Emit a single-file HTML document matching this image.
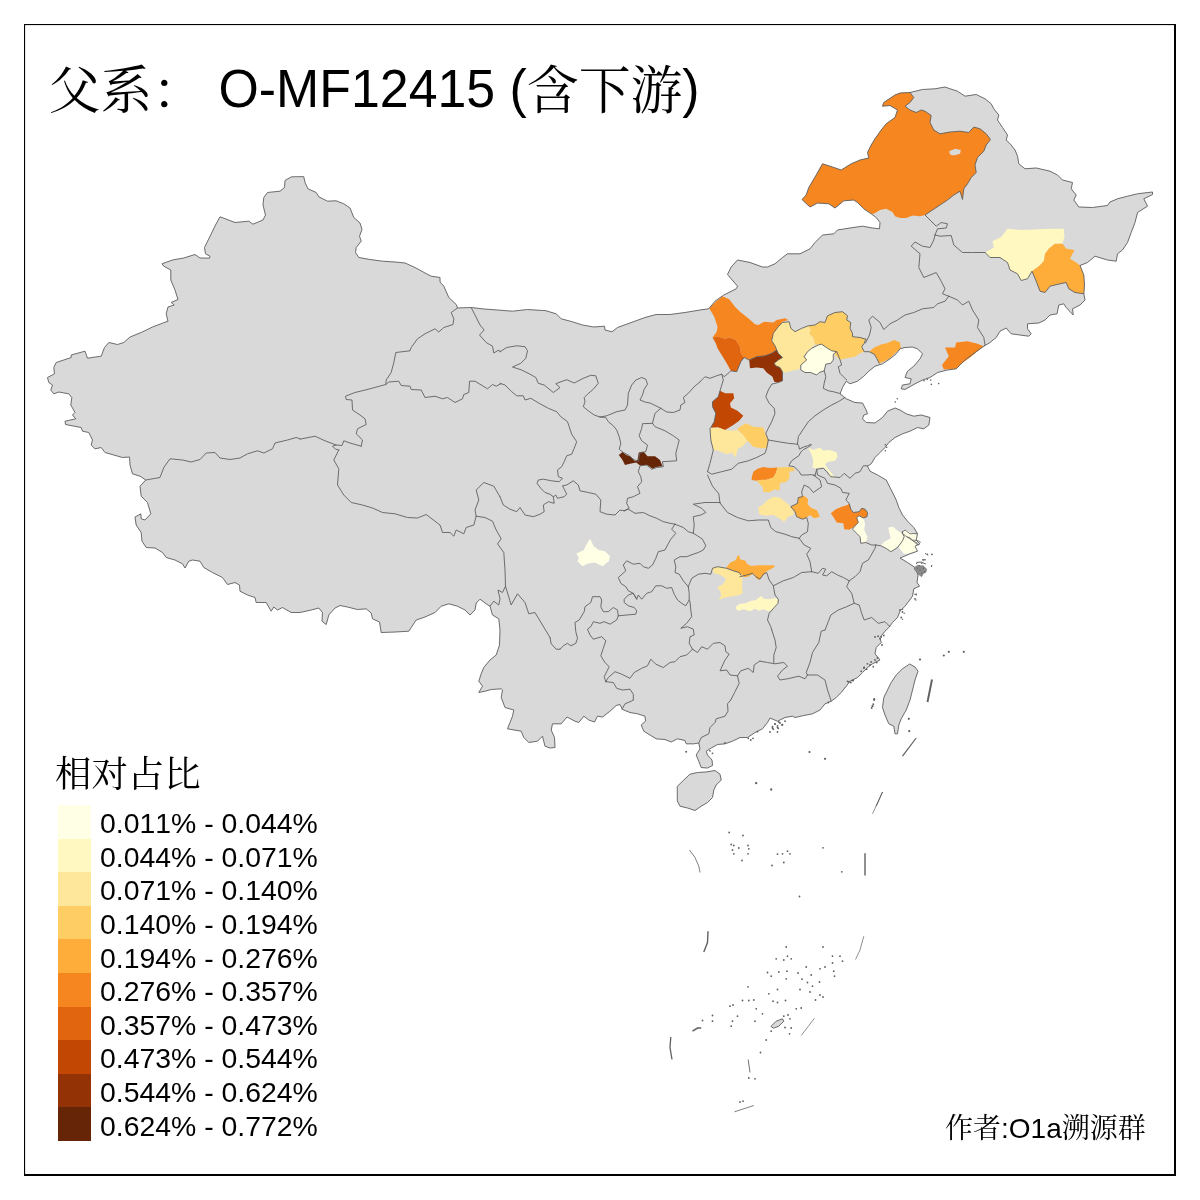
<!DOCTYPE html>
<html lang="zh"><head><meta charset="utf-8"><title>父系： O-MF12415 (含下游)</title>
<style>
html,body{margin:0;padding:0;background:#fff}
body{width:1200px;height:1200px;position:relative;overflow:hidden;font-family:"Liberation Sans","Noto Serif CJK SC",serif;color:#000;font-kerning:none}
.title{position:absolute;left:48.6px;top:59px;font-size:51.85px;line-height:60px;white-space:pre;font-family:"Liberation Sans","Noto Serif CJK SC",serif}
.la{display:inline-block;transform:scaleY(1.025);transform-origin:0 48px;white-space:pre}
.cj{position:relative;top:1.6px}
.lt{position:absolute;left:55px;top:752.6px;font-size:36.4px;line-height:44px;font-family:"Liberation Sans","Noto Serif CJK SC",serif;white-space:pre}
.sw{position:absolute;left:58px;width:33px;height:33.7px}
.lb{position:absolute;left:100px;font-size:28.4px;line-height:33.6px;height:33.6px;margin-top:2.3px;white-space:pre}
.au{position:absolute;left:945px;top:1112px;font-size:28px;line-height:34px;white-space:pre;font-family:"Liberation Sans","Noto Serif CJK SC",serif}
</style></head><body>
<svg width="1200" height="1200" viewBox="0 0 1200 1200" style="position:absolute;left:0;top:0">
<g fill="#D9D9D9" stroke="#D9D9D9" stroke-width="0.5" stroke-linejoin="round">
<path d="M291.2,177 285,180.5 284.5,187.5 280,191.2 267.5,192.5 263.8,197.5 263,205 265.5,215 263,220 253,224.2 248.8,221.2 235,222.5 220,216.8 215.5,225 208.8,238.8 204.5,247.5 205.5,253.8 210,256.2 209.5,258.2 200,258 195,254.5 183.8,258 172.5,260 162,263.8 163.8,266.2 170.8,270 170.8,280 175,290 178,299.5 171.2,302.5 174.2,305 168,307 166.2,313.8 168,321.2 162.5,323.2 152.5,327 141.2,332.5 130,337 123.8,342.5 117.5,344.5 108.8,342.5 104.5,347.5 101.2,356.2 87.5,358.2 85,351.2 71.2,355 71.2,357.5 56.2,362.5 53.8,367.5 54.5,373.8 47.5,377.5 48.8,382.5 52.5,385 50.8,390 53.8,393.8 58.8,392 68.8,393.8 71.8,397.5 70.8,405 75,412.5 72.5,415 75.8,418.8 65,421.2 65.5,424.5 81.2,427.5 82.5,431.2 88.8,432.5 92.5,440 91.2,445 95,448.8 101.2,447.5 105,452.5 113.8,455 122.5,457.5 129.5,457 130,465 132.5,473.8 140,476.2 145.8,480 140,486.2 141.2,496.2 147.5,502.5 150.8,513.8 145,520 141.2,518.8 140.8,513.8 135,517 136.2,525 141.2,532.5 142,541.2 146.2,547.5 155,548 162.5,552.5 166.2,557.5 175,560 182.5,563.8 185,568 188.8,561.2 192.5,560 200,561.2 203.8,567.5 212.5,572.5 222.5,577.5 227.5,584.5 235,582.5 239.5,585 240,591.2 247.5,595 255,597.5 256.2,602.5 266.2,602.5 271.2,611.2 273.8,607 277.5,610 282.5,607.5 291.2,612.5 300,612.5 311.2,610 318.8,608 322.5,612.5 322,621.2 326.2,624.5 328.8,615 335,608 340,605.5 347.5,607 357.5,609.5 366.2,608.8 371.2,613 372.5,618.8 379.5,622 381.2,632.5 395,632 408.8,631.2 416.2,620 425,617 435,612.5 441.2,606.2 448.8,603.8 457.5,606.2 465,610 470,615 475,610 476.2,603 480,599.2 486.2,603.8 490,606.2 492.5,615 498.8,618.8 500,630 499.5,645 496.2,655 490,660 483.8,667.5 481.2,673.8 478.8,681.2 482.5,686.2 478.8,692.5 485,691.2 491.2,689.5 501.2,688.8 502.5,690 501.2,697.5 505,707.5 513.8,710 512.5,716.2 510,722.5 507.5,728.8 521.2,731.2 523.8,737.5 528.8,742.5 537.5,741.2 542.5,736.2 545,746.2 550,748 555,747.5 554.5,737.5 551.2,730 552.5,723.8 561.2,723.8 567,717 575,721.2 578.8,722.5 583.8,716.2 588.8,720 594.5,722 597.5,716.2 602.5,717 610,711.2 616.2,705.5 620,704.5 622.5,709.5 630,712.5 637.5,713.8 645,716.2 645.5,721.2 641.2,725 643.8,731.2 650,735 656.2,738.8 665,739.5 671.2,742 677.5,738.8 685,740.5 686.2,743.8 693.8,743.8 698.8,743 700,748.8 696.2,755 698.8,761.2 701.2,767.5 707.5,768 712.5,765.5 712,760 707.5,755 706.2,751.2 711.2,748 717.5,744.5 725,743.8 732.5,741.2 740,737.5 747.5,737.5 755,732.5 762.5,728.8 767.5,722.5 770,718 777.5,721.2 785,717.5 792.5,716.2 795,717.5 803.8,715.5 812.5,713.8 820,710 825,703.8 831.2,701.2 836.2,697.5 841.2,692.5 846.2,686.2 850,681.2 857.5,677.5 862.5,672.5 867.5,667.5 872.5,663.8 880,660 875,653.8 876.2,647.5 881.2,642.5 880,637.5 885,631.2 888.8,627.5 892.5,622.5 897.5,617.5 900,611.2 905,606.2 908.8,601.2 912.5,596.2 913.8,588.8 919.5,586.2 917,582.5 918,575 915,567.5 907.5,562.5 900,558 902.5,557 910,553.8 917.5,551.2 915,546.2 920,543.8 916.2,540 917.5,533.8 913.8,527.5 907.5,521.2 902.5,515 898.8,507.5 896.2,500 893.8,495 890,487.5 886.2,480 877.5,475 870,471.2 867.5,466.2 871.2,463.8 875,457.5 880,452.5 885,447.5 888.8,442.5 895,437.5 902.5,433.8 910,431.2 917.5,427.5 923.8,428.8 928.8,425 930,417.5 921.2,415 913.8,416.2 906.2,413.8 900,410 895,408 887.5,411.2 882.5,417.5 875,423 866.2,422.5 862.5,418.8 863.8,415 867.5,413.8 866.2,410 862.5,403 855,402.5 846.2,398.8 840,393.8 842.5,387.5 846.2,381.2 850,383.8 857.5,381.2 863.8,376.2 868.8,371.2 875,366.2 882.5,363.8 890,358.8 896.2,353.8 900,348.8 905,347.5 912.5,347 917.5,348.8 922.5,353.8 920,358.8 913.8,366.2 907.5,371.2 905,377.5 911.2,378.8 910,383.8 902.5,385 901.2,388.8 905,389.5 915,383.8 922.5,380 930,377.5 937.5,372.5 947.5,370 956.2,368.8 965,360 975,352.5 983.8,346.2 990,342.5 996.2,337.5 1000,331.2 1006.2,328 1011.2,333.8 1020,335 1028.8,336.2 1031.2,333.8 1027.5,328.8 1027.5,323.8 1038.8,323 1045,320 1050,315 1057,313.8 1058.8,305 1063.8,303.8 1066.2,307.5 1073.2,315 1072.5,308.8 1080,305 1085,300 1083.8,293.8 1084.5,285 1083.8,275 1080,265.5 1087.5,262.5 1095,256.2 1107.5,260 1116.2,261.2 1117.5,253.8 1122.5,250 1127.5,242.5 1131.2,232.5 1135,222.5 1137.5,212.5 1147.5,206.2 1143.8,198.8 1152.5,194.5 1152.5,192 1137.5,193.8 1127.5,196.2 1117.5,198.8 1110,202 1107.5,205.5 1092.5,207.5 1078.8,207 1073.8,200 1076.2,195 1071.2,188.8 1072.5,182.5 1062.5,180 1057.5,175 1050,171.2 1036.2,168 1025,168.8 1018.8,163.8 1017.5,156.2 1015,150 1011.2,145 1006.2,140 1007.5,135 1002.5,127.5 997.5,120 998.8,115 993.8,108.8 991.2,103.8 985,98.8 976.2,94.5 965,96.2 957.5,91.2 950,88.8 945,87 935,88.8 922.5,89.5 910,92.5 900,93 895,95 883.8,102.5 882.5,106.2 890,105.5 897.5,110 895,117.5 886.2,123.8 881.2,130 875,138.8 871.2,145 867.5,152.5 868.8,158 860,160 851.2,163.8 841.2,170 832.5,167 822.5,163.8 816.2,175 808.8,187.5 806.2,195 802,199.5 810,207 817.5,203 828.8,203.8 835,208 843.8,200.8 853.8,200 857.5,202.5 863.8,208.8 871.2,213.8 876.2,217.5 880,222.5 879.5,228.8 872.5,228 862.5,226.2 850,228 837.5,230 833.8,233.8 822.5,235 815,242.5 810,248.8 800,253.8 787.5,253.8 782.5,257.5 775,263.8 767.5,267 762.5,267 750,262.5 737.5,260 731.2,267 727.5,274.5 731.2,278.8 737.5,286.2 736.2,288.8 723.8,295 715,301.2 708.8,308.8 700,310 685,312.5 670,314.5 656.2,314.5 645,317.5 630,323 617.5,327.5 612,331.8 605,330 604.5,326.2 593.8,327 582.5,325 572.5,321.8 561.2,318.8 556.2,313.8 545,310.5 542.5,310.5 527.5,309.5 512.5,311.2 497.5,310 483.8,309 471.2,307.5 457.5,308 456.2,304.5 448.8,297.5 443.8,286.2 440,282 440,277.5 431.2,276.2 425,273 415,267.5 405,263 395,262 382.5,261.2 370,259.5 358.8,257.5 355.5,252.5 356.2,247.5 361.2,241.2 359.5,236.2 362,229.5 360,223 353.8,217.5 350,208 343.8,203.8 336.2,200.8 327.5,201.2 318.8,196.8 316.2,192.5 308,188.8 305,182.5 303.8,177Z"/>
<path d="M677.5,786.2 683.8,780 690,774.2 697.5,772.5 706.2,772 715,770.5 720,774.2 721.2,780 716.2,785 713.8,790 712.5,797.5 707.5,802.5 701.2,806.2 695,810.5 687.5,808 680,806.2 677.5,801.2Z"/>
<path d="M910,664.2 915,667 918,671.2 915,680 912.5,690 910,700 906.2,710 901.2,718.8 898.8,725 897.5,733.8 895,733.8 893.8,726.2 888.8,723.8 885,715 882.5,707.5 883.8,697.5 887.5,690 891.2,682.5 896.2,675 902.5,668.8Z"/>
<path d="M771.2,1026.2 776.2,1021.2 782.5,1018.8 783.8,1021.2 778.8,1026.2 773.8,1028Z"/>
</g>
<g stroke="none">
<path fill="#F68720" d="M709.2,308.3 715.8,301.7 722.5,296.3 729.2,299.2 735,306.7 740,311.7 748.3,318.3 755,324.2 758.3,325 764.2,321.7 773.3,322.5 776.7,320 785,318.3 788.3,320 782.5,321.7 778.3,326.7 773.3,333.3 771.7,340.8 775,345.8 776.7,350 771.7,353.3 765,355.8 756.7,356.7 750,360 744.2,357.5 740.8,353.3 740,346.7 735.8,340 730,337.5 725,338.7 718.3,336.7 712.5,337.5 716.7,331.7 717.5,326.7 714.2,316.7Z"/>
<path fill="#E1640E" d="M712.5,337.5 718.3,336.7 725,338.7 730,337.5 735.8,340 740,346.7 740.8,353.3 744.2,357.5 740.8,361.7 736.7,371.7 730.8,370.8 726.7,363.3 721.7,355 717.5,348.3 715.8,343.3Z"/>
<path fill="#933204" d="M749.2,360 756.7,356.7 765,355.8 771.7,353.3 776.7,350 778.3,353.3 782.5,357.5 778.3,360 774.2,363.3 775.8,365.8 780,367.5 782.5,371.7 782.5,380.8 778.3,382.5 774.2,381.7 772.5,376.7 766.7,372.5 763.3,368.3 756.7,367.5 750,368.3Z"/>
<path fill="#FEE79B" d="M773.3,333.3 778.3,326.7 782.5,322.5 789.2,321.7 790.8,328.3 795,331.7 801.7,328.3 808.3,325.8 810.8,330 809.2,333.3 813.3,337.5 815,344.2 811.7,348.3 807.5,351.7 804.2,356.7 806.7,360 800.8,365 799.2,369.2 791.7,370.8 785.8,372.5 782.5,371.7 780,367.5 775.8,365.8 774.2,363.3 778.3,360 782.5,357.5 778.3,353.3 776.7,350 775,345.8 771.7,340.8Z"/>
<path fill="#FECE65" d="M808.3,325.8 815,325 820,321.7 825,322.5 827.5,315.8 835,312.5 842.5,311.7 847.5,315.8 846.7,320 850.8,322.5 850,328.3 852.5,333.3 852.5,336.7 860,337.5 865.8,339.2 864.2,343.3 861.7,346.7 864.2,351.7 860,353.3 855,356.7 846.7,358.3 840,359.7 836.7,356.7 833.3,353.3 831.7,350.8 827.5,348.3 821.7,344.2 818.3,345 815,344.2 813.3,337.5 809.2,333.3 810.8,330Z"/>
<path fill="#FFFFE5" d="M804.2,356.7 807.5,351.7 811.7,348.3 818.3,345 821.7,344.2 827.5,348.3 831.7,350.8 836.7,351.7 833.3,354.2 833.3,360 830.8,363.3 825.8,364.2 824.2,370.8 819.2,372.5 816.7,375 810.8,372.5 805,372.5 800.8,370 800.8,365 806.7,360Z"/>
<path fill="#FEAC3A" d="M869.2,351.7 874.2,347.5 881.7,344.2 886.7,343.3 894.2,340 900,342.5 900.8,348.3 895,353.3 890,358.3 883.3,361.7 879.2,363.3 876.7,358.3 874.2,354.2Z"/>
<path fill="#C14702" d="M720,390.8 725,393.3 733.3,393.3 734.2,398.3 730,403.3 730.8,407.5 737.5,410.8 743.3,415.8 739.2,420.8 733.3,425 725,430 718.3,427.5 710.8,427.5 714.2,421.7 715.8,413.3 712.5,406.7 712.5,401.7 718.3,396.7Z"/>
<path fill="#FEE79B" d="M710,428.3 718.3,427.5 725,430 731.7,430.8 737.5,430 743.3,435 747.5,440.8 743.3,445.8 737.5,449.2 735.8,457.5 731.7,452.5 726.7,454.2 718.3,450.8 713.3,450 710.8,440Z"/>
<path fill="#FECE65" d="M737.5,428.3 745.8,423.3 753.3,426.7 763.3,427.5 765.8,435 768.3,440 766.7,448.3 760.8,448.3 753.3,446.7 747.5,440.8 743.3,435 737.5,429.2Z"/>
<path fill="#FFF8C1" d="M808.3,447.5 813.3,450 820,447.5 823.3,450.8 830,450 836.7,452.5 837.5,456.7 835,460.8 828.3,461.7 825,464.2 828.3,469.2 832.5,474.2 835,477.5 830.8,476.7 828.3,471.7 824.2,467.5 820,467.5 816.7,468.7 812.5,467.5 813.3,460.8 811.7,455Z"/>
<path fill="#F68720" d="M751.7,477.5 753.3,471.7 757.5,468.7 763.3,467 770,468 777.5,467.5 775.8,473.3 773.3,477.5 766.7,479.7 760,480 756.7,480.8 751.7,480Z"/>
<path fill="#FECE65" d="M777.5,467.5 788.3,467 793.3,467.5 795,470.8 789.2,471.7 789.7,477.5 786.7,481.7 780,483.3 779.2,490.8 775,489.2 769.2,492.5 763.3,491.7 762.5,486.7 757.5,481.7 756.7,480.8 760,480 766.7,479.7 773.3,477.5 775.8,473.3Z"/>
<path fill="#FEE79B" d="M758.3,507.5 763.3,504.2 767.5,500 773.3,496.7 780,497.5 785,501.7 789.2,505 794.2,511.7 793.3,515 788.3,516.7 784.2,521.7 779.2,518.3 773.3,515 765,515.8 759.2,514.2Z"/>
<path fill="#FEAC3A" d="M790.8,506.7 797.5,503.3 798.3,497.5 804.2,495.8 808.3,499.2 807.5,504.2 811.7,508.3 816.7,510 820,516.7 814.2,518.3 810,515 806.7,517.5 802.5,519.2 796.7,516.7 795,511.7Z"/>
<path fill="#F68720" d="M830.8,513.3 835.8,509.2 841.7,506.7 847.5,505 849.2,503.3 850.8,509.2 853.3,512.5 859.2,511.7 861.7,508.3 865,509.2 867.5,512.5 867,516.7 863.3,518 859.2,515.8 856.7,517.5 858.3,522.5 854.2,526.7 849.2,529.7 844.2,529.2 843.3,523.3 836.7,522.5 834.2,518.3Z"/>
<path fill="#FFFFE5" d="M856.7,517.5 859.2,515.8 863.3,518 865,523.3 864.2,530 867.5,536.7 865.8,542.5 860.8,543.3 860,536.7 856.7,533.3 852.5,529.2 854.2,526.7 858.3,522.5Z"/>
<path fill="#FFFFE5" d="M888.3,527.5 893.3,526.7 897.5,530.8 902.5,533.3 904.2,536.7 902.5,540.8 899.2,545 895,549.2 890.8,551.7 886.7,548.7 880.8,545.8 884.2,541.7 890.8,538.3 889.2,532.5Z"/>
<path fill="#FFFFE5" d="M902.5,531.7 905.8,530 911.7,533.3 916.7,535 917.5,540 915.8,545 917,550.8 910,553.3 904.2,554.2 900.8,550 898.3,546.7 902.5,540.8 904.2,536.7 902.5,533.3Z"/>
<path fill="#FFFFE5" d="M590,538.8 593.8,546.2 598.8,550 605,551.2 610,556.2 608.8,561.2 602.5,566.2 595,562.5 587.5,563.8 582.5,566.2 577.5,561.2 578.8,557.5 576.2,553.8 583.8,550 587.5,542.5Z"/>
<path fill="#662506" d="M618.8,455 622.5,452 626.2,455 630,456.2 635,461.2 637.5,460 638.8,452.5 643.8,452 647.5,456.2 655,456.2 660,460 662.5,466.2 656.2,467 652.5,468.8 647.5,465 640,465.5 636.2,462.5 630,463.8 625,465 622.5,460Z"/>
<path fill="#F68720" d="M802,199.5 806.2,195 808.8,187.5 816.2,175 822.5,163.8 832.5,167 841.2,170 851.2,163.8 860,160 868.8,158 867.5,152.5 871.2,145 875,138.8 881.2,130 886.2,123.8 895,117.5 897.5,110 890,105.5 882.5,106.2 883.8,102.5 895,95 900,93 910,92.5 913.8,97.5 910,102.5 905,106.2 910,110 916.2,112.5 921.2,110 925,111.2 931.2,115.5 930,122.5 933.8,130 940,133.8 950,132 960,131.2 968.8,132.5 973.8,127 980,128.8 986.2,133.8 990.5,139.5 986.2,145 983.8,151.2 977.5,157.5 975,165 976.2,172.5 971.2,177.5 967.5,183.8 963.8,188.8 962.5,199.5 960,191.2 953.8,195 947.5,200 940,205 932.5,210 925,215 920,216.2 912.5,215.5 906.2,218 900,218 895,216.2 892.5,212 886.2,208.8 880,210 873.8,213.8 871.2,213.8 863.8,208.8 857.5,202.5 853.8,200 843.8,200.8 835,208 828.8,203.8 817.5,203 810,207Z"/>
<path fill="#D9D9D9" d="M949.2,151.2 955,148.8 960.8,150 960,153.8 953.8,155.5 950,154.5Z"/>
<path fill="#FFF8C1" d="M985,252.5 993.8,247.5 992.5,241.2 1001.2,237 1007.5,228.8 1020,230 1035,229.5 1050,228.8 1063.8,228.8 1064.5,236.2 1062.5,243.8 1055,243.8 1048.8,248.8 1045,253.8 1043.8,261.2 1038.8,266.2 1032,271.2 1027.5,278.8 1021.2,280.5 1017.5,273.8 1010,270 1007.5,262.5 1000,257.5 990,257.5Z"/>
<path fill="#FEAC3A" d="M1032,271.2 1038.8,266.2 1043.8,261.2 1045,253.8 1048.8,248.8 1055,243.8 1062.5,243.8 1066.2,248.8 1074.5,250 1070,258.8 1076.2,262.5 1080,265.5 1083.8,275 1084.5,285 1083.8,293.8 1075,292.5 1068.8,288.8 1066.2,282.5 1060,283.8 1050,286.2 1045,292.5 1040,291.2 1036.2,281.2Z"/>
<path fill="#F68720" d="M945,347.5 955,347.5 956.2,342.5 967.5,341.2 977.5,343.8 983.8,346.2 977.5,351.2 970,357.5 961.2,363.8 956.2,368.8 943.8,369.5 942,365 948.8,356.2Z"/>
<path fill="#FEAC3A" d="M726,568 730,562.7 736,560 737.3,556 739.3,555.3 740,559.3 745.3,560.7 747.3,564 751.3,566 757.3,565.3 766.7,565.3 774,565.3 774.7,566.7 770.7,569.3 766.7,571.3 764,574.7 758.7,580 755.3,577.3 754.7,574 751.3,574.7 748,576.7 744,577.3 742,574.7 738.7,572.7 733.3,570.7Z"/>
<path fill="#FEE79B" d="M711.3,568 717.3,566.7 726,568.3 733.3,570.7 738.7,572.7 742.7,577.3 742,585.3 742.7,593.3 738.7,595.3 729.3,596.7 723.3,598 718.7,600.3 721.3,595.3 720,590.7 717.3,587.3 723.3,584 726,578.7 720,574.7 714,573.3Z"/>
<path fill="#FFF8C1" d="M736,606.7 739.3,604 745.3,603.3 751.3,600.7 756,600 760.7,596 764,598.7 769.3,599.3 774.7,598 778,599.3 778,604 774.7,606.7 772,610 768,611.3 764,609.3 758.7,610.7 754.7,608.7 750,611.3 744,609.3 738,610.7 736,608.7Z"/>
</g>
<g fill="none" stroke="#606060" stroke-width="0.9" stroke-linejoin="round" stroke-linecap="round">
<path d="M145.8,480 160,477.5 163.8,467.5 170,458.8 182.5,460 191.2,462 200,459.5 206.2,453 215,452.5 220,458 230,459.5 240,458 247.5,453.8 257.5,450.8 263.8,453 272.5,448.8 275,443 287.5,440 296.2,437.5 300,438.8"/>
<path d="M300,439.2 315,436.2 325,440.8 336.2,445 342,445.5 343.8,440.8 350,443 361.2,446.2"/>
<path d="M336.2,445 332.5,446.2 335.5,449.2 338.8,450"/>
<path d="M457.5,308 451.2,312.5 453.8,318.8 453,324.5 443.8,327.5 438.8,332 435,328.8 425,333.8 417.5,338.8 411.2,347.5 410,350.8 395.8,352.5 393.8,362.5 391.2,372.5 386.2,380 385.8,384.5 370,388.8 355,392.5 345.5,396.2 346.2,399.5 352,400 352.5,410 360,415 365,418.8 366.2,424.5 357.5,428.8 356.2,433.8 362.5,440 361.2,446.2"/>
<path d="M385.8,384.5 388.8,382 398.8,381.2 401.2,385.5 410,386.2 411.2,389.5 421.2,390 425,397.5 435,396.2 442.5,398.8 447.5,397.5 455,402.5 462.5,398.8 463.8,394.5 468.8,392.5 469.5,381.2 475,381.2 487.5,388.8 492.5,384.5 496.2,386.2 500.8,383.8"/>
<path d="M471.2,307.5 475,315 480,325 484.2,330 479.5,335 486.2,342.5 492.5,346.2 493.8,353 498.8,350 500,351.8"/>
<path d="M338.8,450 333.8,460 338.8,468.8 337.5,485 343.8,495 351.2,502.5 362.5,505 372.5,508 382.5,512.5 395,513.8 407.5,517.5 417.5,518 426.2,514.5 435,521.2 440,525 442.5,532.5 450,532.5 453.8,536.2 456.2,530 463.8,533.8 466.2,527.5 473.8,525 476.2,516.2"/>
<path d="M476.2,516.2 475,510 478.8,500 476.2,490 483.8,482.5 493.8,486.2 500,496.8"/>
<path d="M476.2,516.2 485,517.5 492.5,521.2 496.2,530 501.2,538.8 497.5,543.8 503.8,552.5 505,570 505.5,586.2 502.5,592.5 498,590 500,598.8 498.8,605 493.8,601.2 490,606.2"/>
<path d="M505.5,586.2 511.2,605 517.5,593.8 525,602.5 528.8,613.8 535,612.5 542.5,625 550,637.5"/>
<path d="M500,351.7 506.7,347.5 516.7,345.8 525,346.7 527.5,350.8 525.8,358.3 520.8,363.3 512.5,367 521.7,370 530,374.2 535.8,377.5 538.3,383.3 544.2,385 553.3,392.5 560,387.5 555.8,383.7 566.7,379.7 574.2,383 583.3,378.3 590.8,375.3 595.8,375.8 598.3,383.3 593.3,389.2 587.5,394.2 584.2,397.5 585,401.7 583.3,406.7 588.3,410.8 594.2,415 600,417"/>
<path d="M600,417 606.7,415.8 616.7,411.7 625,410 627.5,405 628.3,393.3 631.7,385 635.8,380 641.7,377.5 645.8,379.2 647.5,384.2 644.2,389.2 642.5,395 640,400 645,402 650.8,403.3 655.8,405.8 660.8,408.3"/>
<path d="M660.8,408.3 666.7,412 673.3,412.5 680,410 680.8,405 685,402.5 683.3,397.5 688.3,393.3 694.2,386.7 700,382"/>
<path d="M600,417 605.8,417.5 608.3,421.7 613.3,425.8 616.7,430 619.2,436.7 620.8,443.3 619.2,449.2 623.3,452.5 628.3,455 633.3,459.2 638.3,461.7 640,452.5 645.8,451.7 647.5,445 641.7,440.8 639.2,435.8 641.7,428.3 642.5,423.7 652.5,423.3 653.3,420 655,413.3 660.8,408.3"/>
<path d="M652.5,423.3 655,426.7 665,430.8 673.3,435.8 679.2,440 677.5,446.7 675.8,453.3 676.7,460.8 662.5,461.7 663.3,466.7 656.7,467.5 651.7,469.2 646.7,465 640,465.8 638.3,471.7 640.8,476.7 641.7,481.7 637.5,486.7 640,493.3 633.3,496.7 627.5,498.3 626.7,503.3 629.2,508.3 624.2,510.8"/>
<path d="M500,383.3 505,385 511.7,391.7 516.7,395.8 523.3,395.8 525,400 530.8,398.3 539.2,403.3 548.3,408.3 556.7,411.7 560.8,416.7 567.5,421.7 569.2,426.7 571.7,434.2 576.7,441.7 574.2,448.3 571.7,454.2 566.7,455.8 564.2,461.7 561.7,466.7 557.5,470 558.3,476.7 562.5,478.3 559.2,481.7 551.7,480.8 543.3,479.2 538.3,480 537,483.3 540.8,488.3 545,492.5 550,494.2 553.3,496.7 554.2,503.3 548.3,501.7 543.3,505 544.2,511.7 540,514.2 533.3,516.7 525,515 520,507.5 516.7,511.7 510,509.2 503.3,505 500,496.7"/>
<path d="M553.3,496.7 555.8,495 557.5,498.3 564.2,496.7 566.7,494.2 564.2,489.2 562.5,485.8 566.7,485 573.3,480.8 578.3,485 580,490.8 588.3,492.5 595.8,494.2 600.8,500 600,511.7 606.7,514.2 615,515 620,510 624.2,510.8"/>
<path d="M700,381.7 705,376.7 710,378.3 716.7,375.8 721.7,374.2 724.2,376.7 729.2,372.5 730.8,370.8 736.7,371.7 740.8,361.7 744.2,357.5 749.2,360 756.7,356.7 765,355.8 771.7,353.3 776.7,350"/>
<path d="M776.7,350 775,345.8 771.7,340.8 773.3,333.3 778.3,326.7 782.5,322.5 789.2,321.7 790.8,328.3 795,331.7 801.7,328.3 808.3,325.8 815,325 820,321.7 825,322.5 827.5,315.8 835,312.5 842.5,311.7 847.5,315.8 846.7,320 850.8,322.5 850,328.3 852.5,333.3 852.5,336.7 860,337.5 865.8,339.2"/>
<path d="M865.8,339.2 864.2,343.3 861.7,346.7 864.2,351.7 869.2,351.7 874.2,354.2 876.7,358.3 879.2,363.3"/>
<path d="M865.5,343 869.5,335 871.2,327.5 868.8,320 872.5,316.2 880,322.5 883.8,329.5 890,323.8 897.5,320 905,315 913.8,312.5 922.5,308.8 933.8,307.5 937.5,303.8 945,301.2 948.8,296.2"/>
<path d="M721.7,374.2 723.3,380 720,390.8 718.3,396.7 712.5,401.7 712.5,406.7 715.8,413.3 714.2,421.7 710.8,427.5 710,428.3 710.8,440 713.3,450 710,463.3 707.5,471.7"/>
<path d="M776.7,350 778.3,353.3 782.5,357.5 778.3,360 774.2,363.3 775.8,365.8 780,367.5 782.5,371.7 782.5,380.8 778.3,382.5 771.7,384.2 768.3,390 765.8,396.7 769.2,403.3 774.2,408.3 775,413.3 771.7,421.7 768.3,428.3 765.8,433.3 768.3,440"/>
<path d="M768.3,440 766.7,448.3 765,453.3 756.7,457.5 748.3,460.8 738.3,463.3 731.7,469.2 721.7,471.7 711.7,474.2 707.5,471.7"/>
<path d="M768.3,440 778.3,441.7 788.3,443.3 797.5,444.2"/>
<path d="M797.5,444.2 798.3,436.7 803.3,429.2 808.3,421.7 815,415.8 823.3,410 831.7,405 838.3,401.7 845,397.5"/>
<path d="M804.2,356.7 807.5,351.7 811.7,348.3 818.3,345 821.7,344.2 827.5,348.3 831.7,350.8 836.7,351.7 833.3,354.2 833.3,360 830.8,363.3 825.8,364.2 824.2,370.8 819.2,372.5 816.7,375 810.8,372.5 805,372.5 800.8,370 800.8,365 806.7,360 804.2,356.7"/>
<path d="M836.7,351.7 840,359.7 841.7,365 838.3,366.7 840,373.3 843.3,376.7 846.7,380"/>
<path d="M824.2,370.8 825.8,376.7 824.2,383.3 823.3,388.3 828.3,390.8 833.3,391.7 839.2,393.3 840.3,393.7"/>
<path d="M797.5,444.2 798.8,445.8 799.3,449.2 803.3,447.1 807.5,445.8 810.8,444.2 811.4,445 807.5,447.5 803.3,449.6 800.8,452.1 798.8,455.8 795,458.3 791.7,460.8 789.6,464.2 788.8,465.8 794.2,466.7 796.7,469.2 799.2,471.7 801.2,475 806.7,475 811.7,474.6 813.3,475.4 815,475"/>
<path d="M815,475.8 816.7,469.2 823.3,468.3 826.7,471.7 830.8,476.7 840,477.5 844.2,473.3 850,478.3 855,473.3 860,471.7 863.3,465.8 867.5,465.8"/>
<path d="M813.3,475 820,480 821.7,486.7 813.3,492.5 809.2,487.5 804.2,485 801.7,491.7 802.5,496.7 798.3,497.5 797.5,503.3 790.8,506.7 795,511.7 796.7,516.7 802.5,519.2 806.7,517.5 808.3,523.3 807.5,531.7 801.7,535 799.2,538.3"/>
<path d="M816.7,469.2 817.5,475 825,478.3 827.5,483.3 835,485 840.8,488.3 842.5,492.5 849.2,493.3 845.8,500 849.2,503.3 850.8,509.2 853.3,512.5 859.2,511.7 861.7,508.3 865,509.2 867.5,512.5 867,516.7 863.3,518 859.2,515.8 856.7,517.5 858.3,522.5 854.2,526.7 852.5,529.2 856.7,533.3 860,536.7 860.8,543.3 865.8,542.5 871.7,545 875.8,545"/>
<path d="M875.8,545 880.8,545.8 886.7,548.7 890.8,551.7 895,549.2 898.3,546.7 902.5,540.8 904.2,536.7 902.5,533.3 902.5,531.7"/>
<path d="M720,503 727.5,512.5 737.5,517.5 748.3,520.8 758.3,520 768.3,520 770.8,527.5 775.8,531.7 785,534.2 791.7,536.7 799.2,538.3"/>
<path d="M799.2,538.3 804.2,545 810.8,548.3 806.7,554.2 810,561.7 811.7,571.7"/>
<path d="M811.7,571.7 801.7,572.5 793.3,577.5 783.3,580.8 773.3,585.8 769.2,580 766.7,572.5 763.3,574.2 760,579.2 755.8,576.7 752.5,573.3 746.7,575 740,576.7"/>
<path d="M773.3,585.8 775,595 778.3,599.2 778,603.3 774.2,607.5 769.2,613.3 767.5,620 770.8,626.7 771.7,630"/>
<path d="M811.7,571.7 818.3,573.3 822.5,568.3 825.8,569.2 822.5,575 826.7,575.8 831.7,571.7 837.5,575 843.3,577.5 849.2,580.8"/>
<path d="M849.2,580.8 855,576.7 860,571.7 862.5,563.3 868.3,560 871.7,554.2 875,548.3 875.8,545"/>
<path d="M849.2,580.8 846.7,586.7 851.7,593.3 854.2,603.3 859.2,605 861.7,613.3 864.2,620 871.7,617.5 878.3,623.3 885,621.7 890,626.7"/>
<path d="M854.2,603.3 846.7,606.7 838.3,610 830.8,615 828.3,621.7 825,630"/>
<path d="M910,92.5 913.8,97.5 910,102.5 905,106.2 910,110 916.2,112.5 921.2,110 925,111.2 931.2,115.5 930,122.5 933.8,130 940,133.8 950,132 960,131.2 968.8,132.5 973.8,127 980,128.8 986.2,133.8 990.5,139.5 986.2,145 983.8,151.2 977.5,157.5 975,165 976.2,172.5 971.2,177.5 967.5,183.8 963.8,188.8 962.5,199.5 960,191.2 953.8,195 947.5,200 940,205 932.5,210 925,215 930,220 936.2,226.2 941.2,222.5 947.5,223.8 946.2,228 937.5,228.8 935,235"/>
<path d="M935,235 940,236.2 951.2,235.5 953.8,245 962.5,252.5 972.5,252.5 985,252.5"/>
<path d="M985,252.5 990,257.5 1000,257.5 1007.5,262.5 1010,270 1017.5,273.8 1021.2,280.5 1027.5,278.8 1032,271.2 1036.2,281.2 1040,291.2 1045,292.5 1050,286.2 1060,283.8 1066.2,282.5 1068.8,288.8 1075,292.5 1083.8,293.8"/>
<path d="M935,235 933.8,240 930,247.5 922.5,246.2 915,242 911.2,246.2 920,253.8 918.8,267.5 923.8,277.5 936.2,272.5 941.2,281.2 945,288.8 942.5,293.8 948.8,296.2"/>
<path d="M948.8,296.2 957.5,300 962.5,305 968.8,301.2 972.5,310 978.8,320 977.5,327.5 983.8,337.5 985,345 983.8,346.2"/>
<path d="M624.2,510.8 628.3,509.2 635,513.3 643.3,512.5 650,515.8 656.7,518.3 663.3,521.7 670,523.3 675,524.2"/>
<path d="M675,524.2 683.3,527.5 688.3,531.7 693.3,533.3"/>
<path d="M693.3,533.3 694.2,525 693.3,516.7 700.8,515 705.8,512.5 701.7,508.3 693.3,504.2 705,502.5 720,502.5"/>
<path d="M707.5,475 712.5,486.2 718.8,493.8 720,503"/>
<path d="M675,524.2 671.7,529.2 675.8,533.3 670.8,539.2 667.5,545 665,550 658.3,551.7 655.8,558.3 652.5,565 648.3,568.3 643.3,566.7 640,563.3 633.3,564.2 626.7,560.8 623.3,565 625.8,570.8 618.3,577.5 620.8,583.3 625.8,586.7 628.3,590.8 633.3,593.3 636.7,599.2"/>
<path d="M689.2,600 685.8,605.8 681.7,603.3 677.5,600 674.2,594.2 671.7,587.5 666.7,588.3 661.7,585.8 655.8,585.8 651.7,591.7 646.7,593.3 641.7,599.2 638.3,595 636.7,599.2 633.3,593.3 628.3,595 624.2,599.2 624.2,602.5 628.3,605.8 634.2,607.5 636.7,610.8 635.8,614.2 626.7,615 618.3,615.8"/>
<path d="M693.3,533.3 697.5,535.8 702.5,539.2 705.8,545.8 703.3,550 698.3,552.5 693.3,554.2 686.7,556.7 680,556.7 674.2,560 675.8,566.7 675,572.5 679.2,574.2 683.3,580.8 688.3,586.7"/>
<path d="M688.3,586.7 691.7,578.3 698.3,574.2 705,573.3 710.8,574.2 712.5,568.3 717.5,566.7 726.7,568.3 733.3,570.8 739.2,572.5 740.8,575"/>
<path d="M688.3,586.7 689.2,593.3 689.2,600 690,601.7 690.8,610 691.7,616.7 686.7,623.3 680.8,628.3 687.5,626.7 693.3,629.2 694.2,635 690,636.7 689.2,643.3 692.5,649.2"/>
<path d="M618.3,615.8 617.5,610 613.3,607.5 608.3,611.7 603.3,611.7 600.8,606.7 601.7,600 600,596.7 592.5,596.7 590.8,602.5 585,606.7 584.2,611.7 579.2,620 575,622.5 575.8,631.7 577.5,638.3 575.8,643.3 570.8,645.8 567.5,643.3 563.3,645.8 560,649.2"/>
<path d="M618.3,615.8 616.7,620 610,624.2 604.2,621.7 600,623.3 593.3,621.7 590.8,626.7 587.5,629.2 590,635 593.3,639.2 601.7,636.7 605.8,640.8 603.3,648.3 600.8,655.8 605,662.5 609.2,666.7 606.7,671.7 604.2,676.7 605.8,681.7"/>
<path d="M605.8,681.7 613.3,682.5 616.7,688.3 622.5,690 630,689.2 633.3,694.2 633.3,700"/>
<path d="M605.8,681.7 608.3,677.5 615,671.7 621.7,674.2 630,678.3 634.2,672.5 641.7,668.3 647.5,665.8 650.8,659.2 655.8,664.2 663.3,667.5 670,662.5 675,661.7 680,656.7 686.7,655 692.5,649.2"/>
<path d="M692.5,649.2 697.5,652.5 701.7,646.7 707.5,649.2 713.3,643.3 720,642.5 725,645.8 725.8,651.7 729.2,654.2 725,660 720,670.8 726.7,670 730,675 737.5,675.8"/>
<path d="M737.5,675.8 740.8,670.8 748.3,668.3 753.3,672.5 754.2,665 760,660.8"/>
<path d="M737.5,675.8 739.2,683.3 735,691.7 730.8,700"/>
<path d="M550,637.5 551.2,643.8 556.2,649.2 560,649.2"/>
<path d="M771.8,630 775,640 776.2,647.5 773.8,655 773.8,662.5"/>
<path d="M760,661.2 767.5,662.5 775,663.8 783.8,662.5 787.5,666.2 782.5,670 777.5,676.2 780,680 787.5,678.8 798.8,676.2 805,678.8 807.5,675"/>
<path d="M807.5,675 817.5,675 825,680 827.5,690 830,697.5 831.2,701.2"/>
<path d="M825,630 821.2,631.2 818.8,642.5 812.5,652.5 810,662.5 806.2,672.5 807.5,675"/>
<path d="M730.8,700 727.5,703.8 728,711.2 725,716.2 716.2,718.8 715,722.5 710,727.5 708.8,733.8 701.2,737.5 698.8,743"/>
<path d="M633.2,700 631.2,701.2 625,703.8 622,709.2"/>
<path d="M291.2,177 285,180.5 284.5,187.5 280,191.2 267.5,192.5 263.8,197.5 263,205 265.5,215 263,220 253,224.2 248.8,221.2 235,222.5 220,216.8 215.5,225 208.8,238.8 204.5,247.5 205.5,253.8 210,256.2 209.5,258.2 200,258 195,254.5 183.8,258 172.5,260 162,263.8 163.8,266.2 170.8,270 170.8,280 175,290 178,299.5 171.2,302.5 174.2,305 168,307 166.2,313.8 168,321.2 162.5,323.2 152.5,327 141.2,332.5 130,337 123.8,342.5 117.5,344.5 108.8,342.5 104.5,347.5 101.2,356.2 87.5,358.2 85,351.2 71.2,355 71.2,357.5 56.2,362.5 53.8,367.5 54.5,373.8 47.5,377.5 48.8,382.5 52.5,385 50.8,390 53.8,393.8 58.8,392 68.8,393.8 71.8,397.5 70.8,405 75,412.5 72.5,415 75.8,418.8 65,421.2 65.5,424.5 81.2,427.5 82.5,431.2 88.8,432.5 92.5,440 91.2,445 95,448.8 101.2,447.5 105,452.5 113.8,455 122.5,457.5 129.5,457 130,465 132.5,473.8 140,476.2 145.8,480 140,486.2 141.2,496.2 147.5,502.5 150.8,513.8 145,520 141.2,518.8 140.8,513.8 135,517 136.2,525 141.2,532.5 142,541.2 146.2,547.5 155,548 162.5,552.5 166.2,557.5 175,560 182.5,563.8 185,568 188.8,561.2 192.5,560 200,561.2 203.8,567.5 212.5,572.5 222.5,577.5 227.5,584.5 235,582.5 239.5,585 240,591.2 247.5,595 255,597.5 256.2,602.5 266.2,602.5 271.2,611.2 273.8,607 277.5,610 282.5,607.5 291.2,612.5 300,612.5 311.2,610 318.8,608 322.5,612.5 322,621.2 326.2,624.5 328.8,615 335,608 340,605.5 347.5,607 357.5,609.5 366.2,608.8 371.2,613 372.5,618.8 379.5,622 381.2,632.5 395,632 408.8,631.2 416.2,620 425,617 435,612.5 441.2,606.2 448.8,603.8 457.5,606.2 465,610 470,615 475,610 476.2,603 480,599.2 486.2,603.8 490,606.2 492.5,615 498.8,618.8 500,630 499.5,645 496.2,655 490,660 483.8,667.5 481.2,673.8 478.8,681.2 482.5,686.2 478.8,692.5 485,691.2 491.2,689.5 501.2,688.8 502.5,690 501.2,697.5 505,707.5 513.8,710 512.5,716.2 510,722.5 507.5,728.8 521.2,731.2 523.8,737.5 528.8,742.5 537.5,741.2 542.5,736.2 545,746.2 550,748 555,747.5 554.5,737.5 551.2,730 552.5,723.8 561.2,723.8 567,717 575,721.2 578.8,722.5 583.8,716.2 588.8,720 594.5,722 597.5,716.2 602.5,717 610,711.2 616.2,705.5 620,704.5 622.5,709.5 630,712.5 637.5,713.8 645,716.2 645.5,721.2 641.2,725 643.8,731.2 650,735 656.2,738.8 665,739.5 671.2,742 677.5,738.8 685,740.5 686.2,743.8 693.8,743.8 698.8,743 700,748.8 696.2,755 698.8,761.2 701.2,767.5 707.5,768 712.5,765.5 712,760 707.5,755 706.2,751.2 711.2,748 717.5,744.5 725,743.8 732.5,741.2 740,737.5 747.5,737.5 755,732.5 762.5,728.8 767.5,722.5 770,718 777.5,721.2 785,717.5 792.5,716.2 795,717.5 803.8,715.5 812.5,713.8 820,710 825,703.8 831.2,701.2 836.2,697.5 841.2,692.5 846.2,686.2 850,681.2 857.5,677.5 862.5,672.5 867.5,667.5 872.5,663.8 880,660 875,653.8 876.2,647.5 881.2,642.5 880,637.5 885,631.2 888.8,627.5 892.5,622.5 897.5,617.5 900,611.2 905,606.2 908.8,601.2 912.5,596.2 913.8,588.8 919.5,586.2 917,582.5 918,575 915,567.5 907.5,562.5 900,558 902.5,557 910,553.8 917.5,551.2 915,546.2 920,543.8 916.2,540 917.5,533.8 913.8,527.5 907.5,521.2 902.5,515 898.8,507.5 896.2,500 893.8,495 890,487.5 886.2,480 877.5,475 870,471.2 867.5,466.2 871.2,463.8 875,457.5 880,452.5 885,447.5 888.8,442.5 895,437.5 902.5,433.8 910,431.2 917.5,427.5 923.8,428.8 928.8,425 930,417.5 921.2,415 913.8,416.2 906.2,413.8 900,410 895,408 887.5,411.2 882.5,417.5 875,423 866.2,422.5 862.5,418.8 863.8,415 867.5,413.8 866.2,410 862.5,403 855,402.5 846.2,398.8 840,393.8 842.5,387.5 846.2,381.2 850,383.8 857.5,381.2 863.8,376.2 868.8,371.2 875,366.2 882.5,363.8 890,358.8 896.2,353.8 900,348.8 905,347.5 912.5,347 917.5,348.8 922.5,353.8 920,358.8 913.8,366.2 907.5,371.2 905,377.5 911.2,378.8 910,383.8 902.5,385 901.2,388.8 905,389.5 915,383.8 922.5,380 930,377.5 937.5,372.5 947.5,370 956.2,368.8 965,360 975,352.5 983.8,346.2 990,342.5 996.2,337.5 1000,331.2 1006.2,328 1011.2,333.8 1020,335 1028.8,336.2 1031.2,333.8 1027.5,328.8 1027.5,323.8 1038.8,323 1045,320 1050,315 1057,313.8 1058.8,305 1063.8,303.8 1066.2,307.5 1073.2,315 1072.5,308.8 1080,305 1085,300 1083.8,293.8 1084.5,285 1083.8,275 1080,265.5 1087.5,262.5 1095,256.2 1107.5,260 1116.2,261.2 1117.5,253.8 1122.5,250 1127.5,242.5 1131.2,232.5 1135,222.5 1137.5,212.5 1147.5,206.2 1143.8,198.8 1152.5,194.5 1152.5,192 1137.5,193.8 1127.5,196.2 1117.5,198.8 1110,202 1107.5,205.5 1092.5,207.5 1078.8,207 1073.8,200 1076.2,195 1071.2,188.8 1072.5,182.5 1062.5,180 1057.5,175 1050,171.2 1036.2,168 1025,168.8 1018.8,163.8 1017.5,156.2 1015,150 1011.2,145 1006.2,140 1007.5,135 1002.5,127.5 997.5,120 998.8,115 993.8,108.8 991.2,103.8 985,98.8 976.2,94.5 965,96.2 957.5,91.2 950,88.8 945,87 935,88.8 922.5,89.5 910,92.5 900,93 895,95 883.8,102.5 882.5,106.2 890,105.5 897.5,110 895,117.5 886.2,123.8 881.2,130 875,138.8 871.2,145 867.5,152.5 868.8,158 860,160 851.2,163.8 841.2,170 832.5,167 822.5,163.8 816.2,175 808.8,187.5 806.2,195 802,199.5 810,207 817.5,203 828.8,203.8 835,208 843.8,200.8 853.8,200 857.5,202.5 863.8,208.8 871.2,213.8 876.2,217.5 880,222.5 879.5,228.8 872.5,228 862.5,226.2 850,228 837.5,230 833.8,233.8 822.5,235 815,242.5 810,248.8 800,253.8 787.5,253.8 782.5,257.5 775,263.8 767.5,267 762.5,267 750,262.5 737.5,260 731.2,267 727.5,274.5 731.2,278.8 737.5,286.2 736.2,288.8 723.8,295 715,301.2 708.8,308.8 700,310 685,312.5 670,314.5 656.2,314.5 645,317.5 630,323 617.5,327.5 612,331.8 605,330 604.5,326.2 593.8,327 582.5,325 572.5,321.8 561.2,318.8 556.2,313.8 545,310.5 542.5,310.5 527.5,309.5 512.5,311.2 497.5,310 483.8,309 471.2,307.5 457.5,308 456.2,304.5 448.8,297.5 443.8,286.2 440,282 440,277.5 431.2,276.2 425,273 415,267.5 405,263 395,262 382.5,261.2 370,259.5 358.8,257.5 355.5,252.5 356.2,247.5 361.2,241.2 359.5,236.2 362,229.5 360,223 353.8,217.5 350,208 343.8,203.8 336.2,200.8 327.5,201.2 318.8,196.8 316.2,192.5 308,188.8 305,182.5 303.8,177Z"/>
<path d="M677.5,786.2 683.8,780 690,774.2 697.5,772.5 706.2,772 715,770.5 720,774.2 721.2,780 716.2,785 713.8,790 712.5,797.5 707.5,802.5 701.2,806.2 695,810.5 687.5,808 680,806.2 677.5,801.2Z"/>
<path d="M910,664.2 915,667 918,671.2 915,680 912.5,690 910,700 906.2,710 901.2,718.8 898.8,725 897.5,733.8 895,733.8 893.8,726.2 888.8,723.8 885,715 882.5,707.5 883.8,697.5 887.5,690 891.2,682.5 896.2,675 902.5,668.8Z"/>
<path d="M771.2,1026.2 776.2,1021.2 782.5,1018.8 783.8,1021.2 778.8,1026.2 773.8,1028Z"/>
</g>
<g fill="none" stroke="#606060" stroke-linecap="butt">
<path stroke-width="0.8" d="M689.5,850 695,857.5 698.8,866.2 700,872.5"/>
<path stroke-width="1.4" d="M708,931.2 707.5,942.5 703.8,952"/>
<path stroke-width="1.3" d="M670.8,1037 670,1047.5 672,1059.5"/>
<path stroke-width="0.7" d="M882.5,792 872.5,813.8"/>
<path stroke-width="1.4" d="M865,853.2 865,875.5"/>
<path stroke-width="0.7" d="M863.8,936.2 860,950 855.5,959.5"/>
<path stroke-width="0.7" d="M814.5,1018.2 801.2,1035.5"/>
<path stroke-width="0.9" d="M748.2,1059.5 750,1072.5"/>
<path stroke-width="1.5" d="M692.5,1031.2 697.5,1028 701.2,1028"/>
<path stroke-width="1.9" d="M932,679.5 927.5,702"/>
<path stroke-width="1.2" d="M916.2,738 902.5,756.2"/>
<path stroke-width="1.0" d="M882.5,792 876.2,806.2"/>
<path stroke-width="0.8" d="M734.5,1111.8 753.8,1105.5"/>
<path stroke-width="1.2" d="M922.1,559.8 925.8,559.8"/>
<path stroke-width="1.0" d="M916.7,562.3 921.2,562.1 925.8,564"/>
<path stroke-width="0.9" d="M925,553.3 928.3,555.4"/>
<path stroke-width="0.9" d="M931,554.6 932.9,554.6"/>
<path stroke-width="0.8" d="M917.5,533.3 910,533.8 905,530 901.7,532.9 906.7,536.7 911.7,540 917.5,543.3"/>
<path stroke-width="0.8" d="M906.7,536.7 910,537.9 914.2,541.7 918.3,545.4"/>
<path stroke-width="0.8" d="M913.3,540 918.3,540.8 920.8,542.5"/>
</g>
<g fill="#606060">
<path fill="#8C8C8C" stroke="#707070" stroke-width="0.6" d="M914.2,567.9 917.5,565.2 920.8,565.8 923.3,565.8 926.7,569.2 925.8,572.5 923.3,573.3 921.7,576.7 918.3,574.2 916.7,571.7 914.6,570Z"/>
<circle cx="756.2" cy="783.2" r="0.9"/>
<circle cx="771.2" cy="789.5" r="0.9"/>
<circle cx="729.2" cy="832.5" r="0.9"/>
<circle cx="743" cy="835.5" r="0.9"/>
<circle cx="731.2" cy="844.5" r="0.9"/>
<circle cx="733.8" cy="845.5" r="0.9"/>
<circle cx="732.5" cy="850" r="0.9"/>
<circle cx="738.8" cy="848" r="0.9"/>
<circle cx="748" cy="845.5" r="0.9"/>
<circle cx="748.8" cy="848.8" r="0.9"/>
<circle cx="748" cy="853.8" r="0.9"/>
<circle cx="733.8" cy="853.8" r="0.9"/>
<circle cx="742" cy="860.5" r="0.9"/>
<circle cx="823" cy="847.8" r="0.9"/>
<circle cx="777.5" cy="854.2" r="0.9"/>
<circle cx="782.5" cy="853.8" r="0.9"/>
<circle cx="787.5" cy="851.2" r="0.9"/>
<circle cx="790" cy="853.8" r="0.9"/>
<circle cx="783.8" cy="862.5" r="0.9"/>
<circle cx="772" cy="865.5" r="0.9"/>
<circle cx="841.8" cy="871.8" r="0.9"/>
<circle cx="799.5" cy="896.5" r="0.9"/>
<circle cx="786.2" cy="947" r="0.9"/>
<circle cx="823" cy="947" r="0.9"/>
<circle cx="776.2" cy="958.8" r="0.9"/>
<circle cx="783.8" cy="960" r="0.9"/>
<circle cx="787.5" cy="956.2" r="0.9"/>
<circle cx="791.2" cy="958.8" r="0.9"/>
<circle cx="832.5" cy="956.2" r="0.9"/>
<circle cx="840" cy="956.2" r="0.9"/>
<circle cx="842.5" cy="961.2" r="0.9"/>
<circle cx="832.5" cy="963" r="0.9"/>
<circle cx="820" cy="968.8" r="0.9"/>
<circle cx="825" cy="967" r="0.9"/>
<circle cx="806.2" cy="967" r="0.9"/>
<circle cx="767.5" cy="972.5" r="0.9"/>
<circle cx="778.8" cy="972" r="0.9"/>
<circle cx="787" cy="971.2" r="0.9"/>
<circle cx="798" cy="973" r="0.9"/>
<circle cx="811.2" cy="975" r="0.9"/>
<circle cx="833.8" cy="971.2" r="0.9"/>
<circle cx="834.5" cy="976.2" r="0.9"/>
<circle cx="771.2" cy="976.2" r="0.9"/>
<circle cx="786.2" cy="978.8" r="0.9"/>
<circle cx="802" cy="979.2" r="0.9"/>
<circle cx="807.5" cy="982.5" r="0.9"/>
<circle cx="812.5" cy="986.2" r="0.9"/>
<circle cx="819.5" cy="982" r="0.9"/>
<circle cx="748" cy="986.8" r="0.9"/>
<circle cx="777.5" cy="989.5" r="0.9"/>
<circle cx="800" cy="989.5" r="0.9"/>
<circle cx="810" cy="992" r="0.9"/>
<circle cx="768.8" cy="993.8" r="0.9"/>
<circle cx="820" cy="995" r="0.9"/>
<circle cx="823" cy="997" r="0.9"/>
<circle cx="815.5" cy="1000" r="0.9"/>
<circle cx="742.5" cy="1000.5" r="0.9"/>
<circle cx="748.8" cy="1000.5" r="0.9"/>
<circle cx="753.8" cy="1000" r="0.9"/>
<circle cx="773" cy="1001.2" r="0.9"/>
<circle cx="777.5" cy="1002.5" r="0.9"/>
<circle cx="785.5" cy="1000.5" r="0.9"/>
<circle cx="730" cy="1006.2" r="0.9"/>
<circle cx="733" cy="1005" r="0.9"/>
<circle cx="796.2" cy="1008.8" r="0.9"/>
<circle cx="801.2" cy="1008" r="0.9"/>
<circle cx="756.2" cy="1008.8" r="0.9"/>
<circle cx="762.5" cy="1013.8" r="0.9"/>
<circle cx="737.5" cy="1016.2" r="0.9"/>
<circle cx="755" cy="1021.2" r="0.9"/>
<circle cx="712.5" cy="1015.5" r="0.9"/>
<circle cx="702.5" cy="1020.5" r="0.9"/>
<circle cx="712.5" cy="1021.2" r="0.9"/>
<circle cx="732.5" cy="1021.2" r="0.9"/>
<circle cx="731.2" cy="1026.2" r="0.9"/>
<circle cx="771.2" cy="1031.2" r="0.9"/>
<circle cx="785" cy="1027.5" r="0.9"/>
<circle cx="791.2" cy="1028" r="0.9"/>
<circle cx="789.5" cy="1033.8" r="0.9"/>
<circle cx="766.2" cy="1040" r="0.9"/>
<circle cx="760.5" cy="1052.5" r="0.9"/>
<circle cx="783.8" cy="1016.2" r="0.9"/>
<circle cx="788" cy="1015" r="0.9"/>
<circle cx="790" cy="1018.8" r="0.9"/>
<circle cx="740" cy="1102" r="0.9"/>
<circle cx="743" cy="1101.2" r="0.9"/>
<circle cx="748.8" cy="1078" r="0.9"/>
<circle cx="755" cy="1078.8" r="0.9"/>
<circle cx="943.8" cy="655.5" r="1.1"/>
<circle cx="948.8" cy="651.8" r="1.1"/>
<circle cx="963.8" cy="651.8" r="1.1"/>
<circle cx="920" cy="659.5" r="1.1"/>
<circle cx="874.2" cy="699.2" r="1.1"/>
<circle cx="872.5" cy="706.2" r="1.1"/>
<circle cx="908.8" cy="718.8" r="1.1"/>
<circle cx="909.2" cy="731.2" r="1.1"/>
<circle cx="809.5" cy="752" r="1.1"/>
<circle cx="825" cy="758.8" r="1.1"/>
<circle cx="756.2" cy="783.2" r="1.1"/>
<circle cx="771.2" cy="789.5" r="1.1"/>
<circle cx="686.2" cy="751.8" r="1.0"/>
<circle cx="916.7" cy="563.3" r="0.7"/>
<circle cx="919.2" cy="565.8" r="0.7"/>
<circle cx="921.7" cy="563.3" r="0.7"/>
<circle cx="923.3" cy="568.3" r="0.7"/>
<circle cx="920" cy="570" r="0.7"/>
<circle cx="917.5" cy="568.3" r="0.7"/>
<circle cx="924.2" cy="571.7" r="0.7"/>
<circle cx="921.7" cy="573.3" r="0.7"/>
<circle cx="923.3" cy="560" r="0.7"/>
<circle cx="927.5" cy="554.2" r="0.7"/>
<circle cx="931.7" cy="554.2" r="0.7"/>
<circle cx="931.7" cy="565.8" r="0.7"/>
<circle cx="915.8" cy="600" r="0.7"/>
<circle cx="915" cy="594.2" r="0.7"/>
<circle cx="902.5" cy="609.2" r="0.7"/>
<circle cx="904.2" cy="613.3" r="0.7"/>
<circle cx="902.5" cy="619.2" r="0.7"/>
<circle cx="931.4" cy="566.4" r="0.6"/>
<circle cx="772.5" cy="726.7" r="0.9"/>
<circle cx="775" cy="724.2" r="0.9"/>
<circle cx="777.5" cy="725.8" r="0.9"/>
<circle cx="780" cy="723" r="0.9"/>
<circle cx="782.5" cy="724.7" r="0.9"/>
<circle cx="778.3" cy="728.3" r="0.9"/>
<circle cx="773.3" cy="729.2" r="0.9"/>
<circle cx="770" cy="732" r="0.9"/>
<circle cx="777.5" cy="732" r="0.9"/>
<circle cx="748.3" cy="738.3" r="0.9"/>
<circle cx="750.8" cy="740" r="0.9"/>
<circle cx="753" cy="738.3" r="0.9"/>
<circle cx="757.5" cy="731.7" r="0.9"/>
<circle cx="710" cy="750.8" r="0.9"/>
<circle cx="712.5" cy="753.3" r="0.9"/>
<circle cx="725" cy="743" r="0.9"/>
<circle cx="847.5" cy="681.3" r="0.9"/>
<circle cx="850.8" cy="682.5" r="0.9"/>
<circle cx="853.3" cy="680.3" r="0.9"/>
<circle cx="864.2" cy="667.5" r="0.9"/>
<circle cx="866.7" cy="669.2" r="0.9"/>
<circle cx="870" cy="665" r="0.9"/>
<circle cx="873.3" cy="666.7" r="0.9"/>
<circle cx="876.7" cy="662.5" r="0.9"/>
<circle cx="874.2" cy="700" r="0.9"/>
<circle cx="873.3" cy="704.2" r="0.9"/>
<circle cx="871.7" cy="708" r="0.9"/>
<circle cx="828.3" cy="702.5" r="0.9"/>
<circle cx="875" cy="637" r="0.9"/>
<circle cx="878" cy="636.2" r="0.9"/>
<circle cx="881.2" cy="637" r="0.9"/>
<circle cx="883.8" cy="635.5" r="0.9"/>
<circle cx="880" cy="638.8" r="0.9"/>
<circle cx="882" cy="645" r="0.9"/>
<circle cx="867.5" cy="663.8" r="0.9"/>
<circle cx="871.2" cy="662" r="0.9"/>
<circle cx="875" cy="660" r="0.9"/>
<circle cx="877.5" cy="658" r="0.9"/>
<circle cx="863.8" cy="668" r="0.9"/>
<circle cx="861.2" cy="671.2" r="0.9"/>
<circle cx="848.8" cy="682" r="0.9"/>
<circle cx="852.5" cy="680.5" r="0.9"/>
<circle cx="900" cy="610" r="0.9"/>
<circle cx="902.5" cy="612" r="0.9"/>
<circle cx="901.2" cy="617.5" r="0.9"/>
<circle cx="915" cy="598.8" r="0.9"/>
<circle cx="916.2" cy="594.5" r="0.9"/>
<circle cx="775" cy="723.8" r="0.9"/>
<circle cx="778.8" cy="722" r="0.9"/>
<circle cx="782" cy="725" r="0.9"/>
<circle cx="785" cy="721.2" r="0.9"/>
<circle cx="772.5" cy="728" r="0.9"/>
<circle cx="777.5" cy="727.5" r="0.9"/>
<circle cx="924" cy="380.7" r="0.8"/>
<circle cx="927.3" cy="379.3" r="0.8"/>
<circle cx="930.7" cy="380" r="0.8"/>
<circle cx="931.3" cy="384.4" r="0.8"/>
<circle cx="938.7" cy="383.6" r="0.8"/>
<circle cx="897.3" cy="398.7" r="0.8"/>
<circle cx="895.3" cy="402" r="0.8"/>
<circle cx="885.3" cy="444.7" r="0.8"/>
<circle cx="886.7" cy="447.3" r="0.8"/>
<circle cx="885.3" cy="450.7" r="0.8"/>
</g>
<g fill="#000"><rect x="24" y="24" width="1152" height="1.1"/><rect x="24" y="24" width="1.1" height="1152"/><rect x="1174" y="24" width="2" height="1152"/><rect x="24" y="1174" width="1152" height="2"/></g>
</svg>
<div class="title"><span class="cj">父系：</span><span class="la"> O-MF12415 (</span><span class="cj">含下游</span><span class="la">)</span></div>
<div class="lt">相对占比</div>
<div class="sw" style="top:805.0px;background:#FFFFE5"></div>
<div class="lb" style="top:805.0px">0.011% - 0.044%</div>
<div class="sw" style="top:838.6px;background:#FFF8C1"></div>
<div class="lb" style="top:838.6px">0.044% - 0.071%</div>
<div class="sw" style="top:872.2px;background:#FEE79B"></div>
<div class="lb" style="top:872.2px">0.071% - 0.140%</div>
<div class="sw" style="top:905.8px;background:#FECE65"></div>
<div class="lb" style="top:905.8px">0.140% - 0.194%</div>
<div class="sw" style="top:939.4px;background:#FEAC3A"></div>
<div class="lb" style="top:939.4px">0.194% - 0.276%</div>
<div class="sw" style="top:973.0px;background:#F68720"></div>
<div class="lb" style="top:973.0px">0.276% - 0.357%</div>
<div class="sw" style="top:1006.6px;background:#E1640E"></div>
<div class="lb" style="top:1006.6px">0.357% - 0.473%</div>
<div class="sw" style="top:1040.2px;background:#C14702"></div>
<div class="lb" style="top:1040.2px">0.473% - 0.544%</div>
<div class="sw" style="top:1073.8px;background:#933204"></div>
<div class="lb" style="top:1073.8px">0.544% - 0.624%</div>
<div class="sw" style="top:1107.4px;background:#662506"></div>
<div class="lb" style="top:1107.4px">0.624% - 0.772%</div>
<div class="au">作者:O1a溯源群</div>
</body></html>
